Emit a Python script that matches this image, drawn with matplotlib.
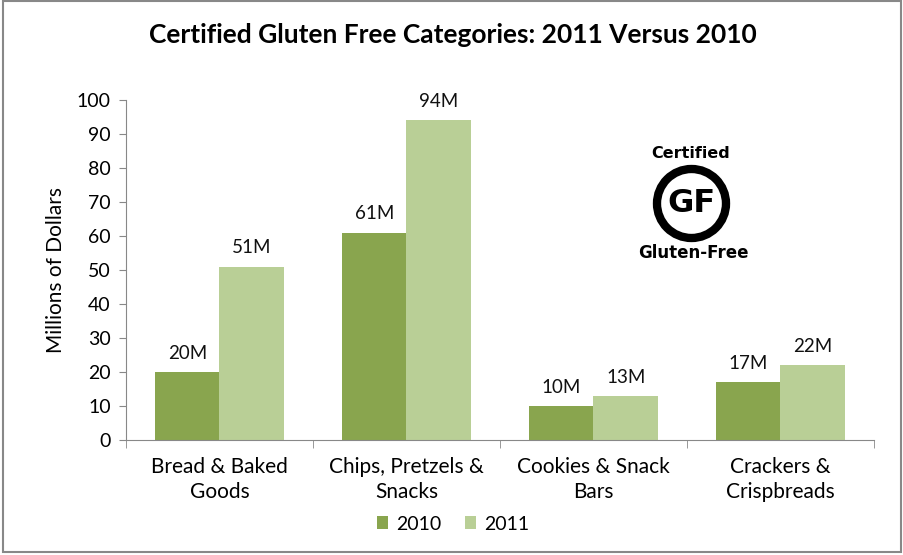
import numpy as np
import matplotlib
matplotlib.use("Agg")
import matplotlib.pyplot as plt
from matplotlib.patches import Circle, Rectangle

# data (millions of dollars)
categories = ["Bread & Baked\nGoods", "Chips, Pretzels &\nSnacks",
              "Cookies & Snack\nBars", "Crackers &\nCrispbreads"]
sales_2010 = [20, 61, 10, 17]
sales_2011 = [51, 94, 13, 22]
series_names = ["2010", "2011"]

col10 = "#89A54E"
col11 = "#B9CF96"
font = ["Lato", "DejaVu Sans"]
plt.rcParams["font.family"] = font

fig = plt.figure(figsize=(9.04, 5.55), dpi=100)
fig.patches.append(Rectangle((3/904, 3/555), 898/904, 551/555, transform=fig.transFigure,
                             fill=False, ec="#888888", lw=1.5))

ax = fig.add_axes([126/904, 115/555, 748/904, 340/555])
x = np.arange(len(categories))
w = 0.345
b1 = ax.bar(x - w/2, sales_2010, w, color=col10, label=series_names[0])
b2 = ax.bar(x + w/2, sales_2011, w, color=col11, label=series_names[1])

for bars, vals in [(b1, sales_2010), (b2, sales_2011)]:
    for r, v in zip(bars, vals):
        ax.text(r.get_x() + r.get_width()/2, v + 3, f"{v}M", ha="center", va="bottom",
                fontsize=13.5, color="#111111")

ax.set_xlim(-0.5, len(categories) - 0.5)
ax.set_ylim(0, 100)
ax.set_yticks(range(0, 101, 10))
ax.set_xticks(x)
ax.set_xticklabels(categories, fontsize=15, linespacing=1.35)
ax.set_xticks(np.arange(-0.5, len(categories)), minor=True)
ax.tick_params(axis="x", which="major", length=0, pad=12)
ax.tick_params(axis="x", which="minor", length=6, color="#888888")
ax.tick_params(axis="y", length=5, color="#888888", labelsize=14, pad=6)
for s in ["top", "right"]:
    ax.spines[s].set_visible(False)
for s in ["left", "bottom"]:
    ax.spines[s].set_color("#888888")
ax.set_ylabel("Millions of Dollars", fontsize=15, labelpad=8)

fig.text(453/904, 1 - 35/555, "Certified Gluten Free Categories: 2011 Versus 2010",
         ha="center", va="center", fontsize=19, fontweight="bold")

fig.legend(loc="center", bbox_to_anchor=(453/904, 1 - 524/555), ncol=2, frameon=False,
           fontsize=14, handlelength=0.6, handleheight=0.6, handletextpad=0.4,
           columnspacing=1.2)

# certified GF logo
lax = fig.add_axes([620/904, 1 - 270/555, 150/904, 140/555])
lax.set_xlim(620, 770)
lax.set_ylim(270, 130)
lax.set_aspect("equal")
lax.axis("off")
lax.add_patch(Circle((691.5, 203.5), 34.5, fill=False, lw=6, ec="black"))
lax.text(691.5, 204, "GF", ha="center", va="center", fontsize=23, fontweight="bold",
         family=["DejaVu Sans"])
lax.text(691, 153, "Certified", ha="center", va="center", fontsize=11.5, fontweight="bold",
         family=["DejaVu Sans"])
lax.text(693, 253, "Gluten-Free", ha="center", va="center", fontsize=12, fontweight="bold",
         family=["DejaVu Sans"])

fig.savefig("out.png", dpi=100)
